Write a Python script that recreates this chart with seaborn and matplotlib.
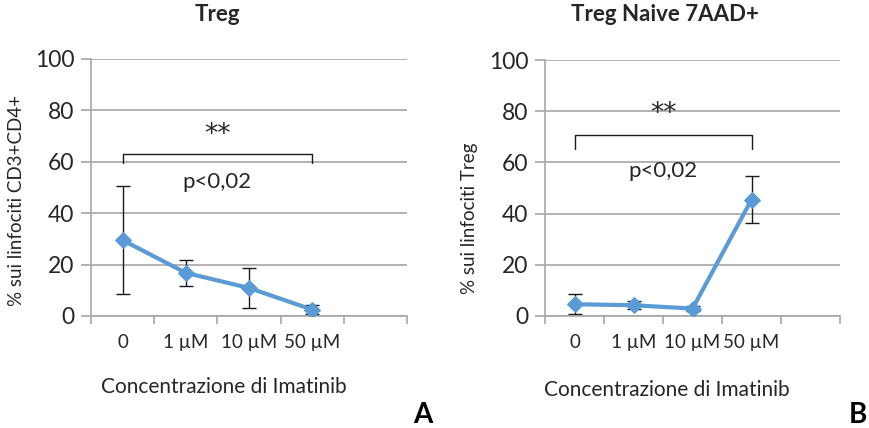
import matplotlib
matplotlib.use("Agg")
import matplotlib.pyplot as plt
import seaborn as sns
import numpy as np

# Imatinib concentrations (the fifth slot on the axis is left empty)
categories = ["0", "1 µM", "10 µM", "50 µM"]

# Treg as % of CD3+CD4+ lymphocytes: mean and error
treg_mean = [29.5, 16.8, 10.9, 2.5]
treg_err = [21.0, 5.0, 7.8, 1.7]

# Naive 7AAD+ Treg as % of Treg: mean and error
naive_mean = [4.6, 4.2, 2.9, 45.5]
naive_err = [4.0, 1.5, 1.0, 9.3]

titles = ["Treg", "Treg Naive 7AAD+"]
ylabels = ["% sui linfociti CD3+CD4+", "% sui linfociti Treg"]
xlabel = "Concentrazione di Imatinib"
pvalue = "p<0,02"
stars = "**"
panel_letters = ["A", "B"]

sns.set_theme(style="white")
plt.rcParams["font.family"] = ["Lato", "DejaVu Sans"]

LINE = "#5B9BD5"
GRID = "#A6A6A6"
TEXT = "#262626"

fig = plt.figure(figsize=(8.69, 4.28), dpi=100)
ax_a = fig.add_axes([0.1047, 0.2617, 0.3636, 0.6005])
ax_b = fig.add_axes([0.6272, 0.2617, 0.3395, 0.5980])

panels = [
    dict(ax=ax_a, mean=treg_mean, err=treg_err, bracket=(63.1, 59.4),
         star_y=70.5, p_y=52.3, title_xy=(0.40, 1.14),
         ylab_xy=(-0.209, 0.45), xlab_xy=(0.42, -0.237)),
    dict(ax=ax_b, mean=naive_mean, err=naive_err, bracket=(70.7, 65.4),
         star_y=79.0, p_y=56.7, title_xy=(0.407, 1.145),
         ylab_xy=(-0.227, 0.38), xlab_xy=(0.414, -0.25)),
]

x = np.arange(len(categories))

for i, p in enumerate(panels):
    ax = p["ax"]
    ax.errorbar(x, p["mean"], yerr=p["err"], fmt="none", ecolor="#1a1a1a",
                elinewidth=1.0, capsize=5, capthick=1.0, zorder=2)
    sns.lineplot(x=x, y=p["mean"], ax=ax, color=LINE, linewidth=3,
                 marker="D", markersize=8, markeredgecolor=LINE, zorder=3)

    ax.set_xlim(-0.5, 4.5)
    ax.set_ylim(0, 100)
    ax.set_yticks(np.arange(0, 101, 20))
    ax.yaxis.grid(True, color=GRID, linewidth=1.2)
    ax.xaxis.grid(False)

    # category labels centred on the points, tick marks on the slot boundaries
    ax.set_xticks(np.arange(-0.5, 5.0, 1.0))
    ax.set_xticklabels([])
    ax.set_xticks(x, minor=True)
    ax.set_xticklabels(categories, minor=True)
    ax.tick_params(axis="x", which="major", direction="out", length=6,
                   width=1.2, color=GRID, bottom=True)
    ax.tick_params(axis="x", which="minor", length=0, pad=13,
                   labelsize=13.5, labelcolor=TEXT)
    ax.tick_params(axis="y", direction="out", length=7, width=1.2,
                   color=GRID, left=True, pad=5, labelsize=16.5,
                   labelcolor=TEXT)

    for side in ["top", "right"]:
        ax.spines[side].set_visible(False)
    for side in ["left", "bottom"]:
        ax.spines[side].set_color(GRID)
        ax.spines[side].set_linewidth(1.2)

    ax.set_ylabel(ylabels[i], fontsize=13.5, color=TEXT)
    ax.yaxis.set_label_coords(*p["ylab_xy"])
    ax.set_xlabel(xlabel, fontsize=15, color=TEXT)
    ax.xaxis.set_label_coords(*p["xlab_xy"])
    ax.set_title(titles[i], fontsize=16, fontweight="bold", color=TEXT,
                 x=p["title_xy"][0], y=p["title_xy"][1], va="center")

    # significance bracket between 0 and 50 µM
    top, foot = p["bracket"]
    ax.plot([0, 0, 3, 3], [foot, top, top, foot], color="#1a1a1a",
            linewidth=1.0, zorder=4, clip_on=False)
    ax.text(1.5, p["star_y"], stars, ha="center", va="center",
            fontsize=19, color=TEXT, family="DejaVu Sans")
    ax.text(1.5, p["p_y"], pvalue, ha="center", va="center",
            fontsize=16, color=TEXT)

fig.text(423 / 869, 1 - 415 / 428, panel_letters[0], ha="center",
         va="center", fontsize=20, fontweight="bold", color="black")
fig.text(858 / 869, 1 - 415 / 428, panel_letters[1], ha="center",
         va="center", fontsize=20, fontweight="bold", color="black")

fig.savefig("out.png", dpi=100, facecolor="white")
